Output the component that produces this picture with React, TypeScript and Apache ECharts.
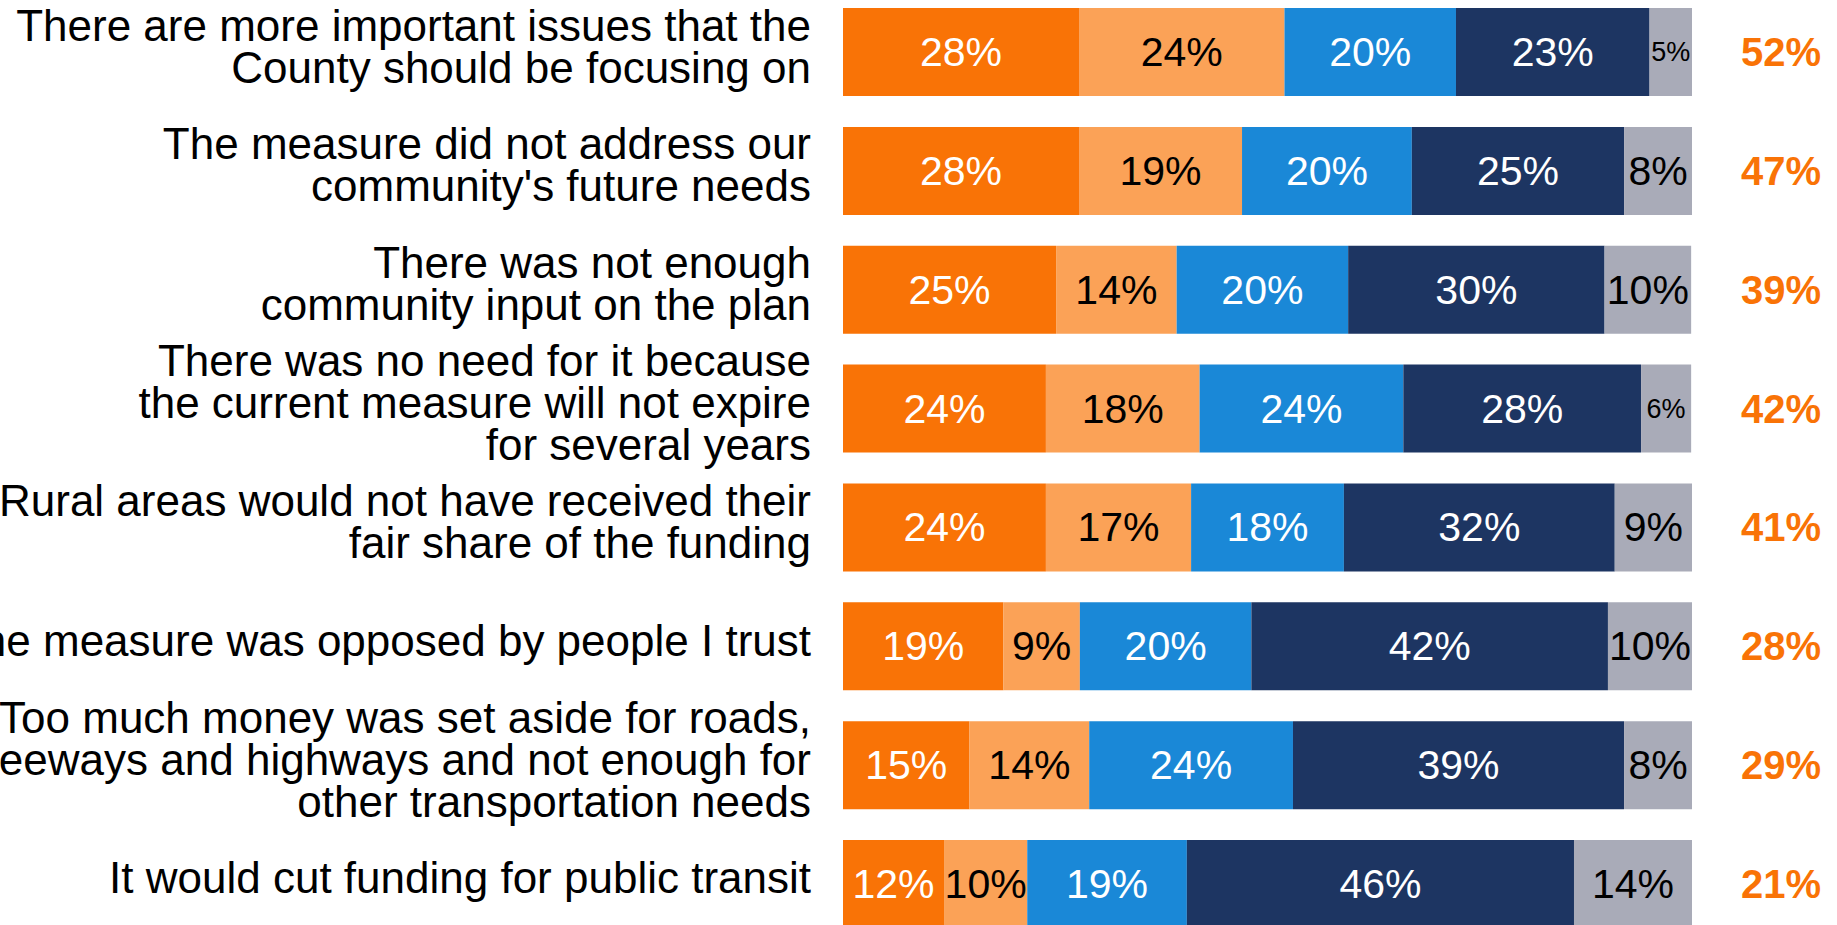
import React, { useEffect, useRef } from "react";
import * as echarts from "echarts";

const categories = [
  "There are more important issues that the\nCounty should be focusing on",
  "The measure did not address our\ncommunity's future needs",
  "There was not enough\ncommunity input on the plan",
  "There was no need for it because\nthe current measure will not expire\nfor several years",
  "Rural areas would not have received their\nfair share of the funding",
  "The measure was opposed by people I trust",
  "Too much money was set aside for roads,\nfreeways and highways and not enough for\nother transportation needs",
  "It would cut funding for public transit",
];

const seriesNames = [
  "Very convincing",
  "Somewhat convincing",
  "Not too convincing",
  "Not at all convincing",
  "Don't know",
];

const veryConvincing = [27.8, 27.8, 25.1, 23.9, 23.9, 18.9, 14.9, 11.9];
const somewhatConvincing = [24.2, 19.2, 14.2, 18.1, 17.1, 9.0, 14.1, 9.8];
const notTooConvincing = [20.2, 20.0, 20.2, 24.0, 18.0, 20.2, 24.0, 18.8];
const notAtAllConvincing = [22.8, 25.0, 30.2, 28.0, 31.9, 42.0, 39.0, 45.6];
const dontKnow = [5.1, 8.0, 10.2, 5.9, 9.1, 9.9, 8.0, 13.9];

const netConvincing = ["52%", "47%", "39%", "42%", "41%", "28%", "29%", "21%"];

const colors = ["#F97306", "#FBA257", "#1A88D7", "#1D3562", "#A9ABB8"];
const labelColors = ["#FFFFFF", "#000000", "#FFFFFF", "#FFFFFF", "#000000"];

const FONT = "'Liberation Sans', Arial, sans-serif";

export default function App() {
  const ref = useRef<HTMLDivElement>(null);

  useEffect(() => {
    if (!ref.current) return;
    const chart = echarts.init(ref.current, null, { renderer: "svg" });
    const allSeries = [
      veryConvincing,
      somewhatConvincing,
      notTooConvincing,
      notAtAllConvincing,
      dontKnow,
    ];

    const option = {
      animation: false,
      grid: {
        left: 843,
        right: 145,
        top: -7.4,
        bottom: -18.4,
        containLabel: false,
        outerBoundsMode: "none",
      },
      xAxis: {
        type: "value",
        min: 0,
        max: 100,
        show: false,
      },
      yAxis: [
        {
          type: "category",
          data: categories,
          inverse: true,
          position: "left",
          axisLine: { show: false },
          axisTick: { show: false },
          splitLine: { show: false },
          axisLabel: {
            margin: 32,
            fontSize: 44,
            lineHeight: 42,
            color: "#000000",
            fontFamily: FONT,
            align: "right",
            formatter: (v: string) => v + "\n{s| }",
            rich: { s: { fontSize: 2, lineHeight: 12 } },
          },
        },
        {
          type: "category",
          data: netConvincing,
          inverse: true,
          position: "right",
          axisLine: { show: false },
          axisTick: { show: false },
          splitLine: { show: false },
          axisLabel: {
            margin: 49,
            fontSize: 40,
            fontWeight: "bold",
            color: "#F97306",
            fontFamily: FONT,
            align: "left",
          },
        },
      ],
      series: allSeries.map((vals, i) => ({
        name: seriesNames[i],
        type: "bar",
        stack: "total",
        yAxisIndex: 0,
        barWidth: 88,
        itemStyle: { color: colors[i] },
        label: {
          show: true,
          position: "inside",
          color: labelColors[i],
          fontFamily: FONT,
          fontSize: 41,
          formatter: (p: any) => Math.round(p.value) + "%",
        },
        data: vals.map((v) => ({
          value: v,
          label: v < 7 ? { fontSize: 27 } : undefined,
        })),
      })),
    };

    chart.setOption(option as any);
    return () => chart.dispose();
  }, []);

  return (
    <div
      ref={ref}
      style={{ position: "absolute", left: 0, top: 0, width: 1837, height: 925, background: "#FFFFFF" }}
    />
  );
}
